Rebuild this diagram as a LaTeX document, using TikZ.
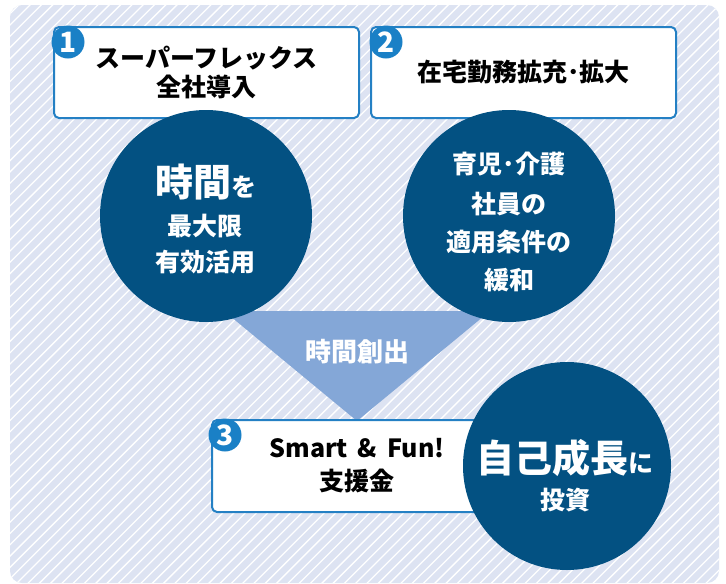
\documentclass[tikz,border=0pt]{standalone}
\usepackage{fontspec}
\setmainfont{Noto Sans CJK JP}
\definecolor{bgc}{RGB}{221,227,242}
\definecolor{darkc}{RGB}{3,81,130}
\definecolor{tric}{RGB}{132,167,215}
\definecolor{badgec}{RGB}{26,128,198}
\definecolor{boxc}{RGB}{36,128,196}
\begin{document}
\begin{tikzpicture}[x=1pt,y=-1pt,
  boxnode/.style={draw=boxc, line width=2pt, fill=white, rounded corners=5pt,
    minimum width=305pt, minimum height=91pt, inner sep=0pt, align=center,
    font=\bfseries\fontsize{25}{30}\selectfont},
  bignode/.style={circle, fill=darkc, inner sep=0pt},
  badge/.style={circle, fill=badgec, minimum size=33pt, inner sep=0pt,
    text=white, font=\bfseries\fontsize{28}{28}\selectfont},
  wtext/.style={text=white, inner sep=0pt, align=center,
    font=\bfseries\fontsize{25}{25}\selectfont},
  btext/.style={text=black, inner sep=0pt, align=center,
    font=\bfseries\fontsize{25}{33}\selectfont}]
\useasboundingbox (0,0) rectangle (726,584);
% background
\fill[bgc, rounded corners=12pt] (10,5) rectangle (719,583);
\begin{scope}
  \clip[rounded corners=12pt] (10,5) rectangle (719,583);
  \foreach \i in {-60,...,66}
    \draw[white, line width=1.3pt] (\i*11.3, 600) -- ++(620,-620);
\end{scope}
% triangle
\coordinate (tl) at (224,311);
\coordinate (tr) at (490,311);
\coordinate (tb) at (357,421);
\fill[tric] (tl) -- (tr) -- (tb) -- cycle;
\node[wtext, font=\bfseries\fontsize{26}{26}\selectfont] (tt) at (357,352) {時間創出};
% boxes
\node[boxnode] (box1) at (206.5,72.5) {スーパーフレックス\\[-1pt]全社導入};
\node[boxnode] (box2) at (523.5,72.5) {在宅勤務拡充･拡大};
\node[boxnode, minimum width=310pt, minimum height=92pt] (box3) at (367,466) {};
\node[btext] (t3) at (357,466) {Smart \,\&\, Fun!\\支援金};
% circles
\node[bignode, minimum size=212pt] (c1) at (206,216) {};
\node[bignode, minimum size=212pt] (c2) at (509,216) {};
\node[bignode, minimum size=208pt] (c3) at (567,466) {};
% circle 1 text
\node[wtext] (c1a) at (206,182) {{\fontsize{38}{38}\selectfont 時間}を};
\node[wtext] (c1b) at (205,226) {最大限};
\node[wtext] (c1c) at (205,262) {有効活用};
% circle 2 text
\node[wtext] (c2a) at (509,164) {育児･介護};
\node[wtext] (c2b) at (509,204) {社員の};
\node[wtext] (c2c) at (509,242) {適用条件の};
\node[wtext] (c2d) at (509,280) {緩和};
% circle 3 text
\node[wtext] (c3a) at (565,458) {{\fontsize{38}{38}\selectfont 自己成長}に};
\node[wtext] (c3b) at (565,500) {投資};
% badges
\node[badge] (b1) at (68,42) {1};
\node[badge] (b2) at (386,42) {2};
\node[badge] (b3) at (225,435) {3};
\end{tikzpicture}
\end{document}
